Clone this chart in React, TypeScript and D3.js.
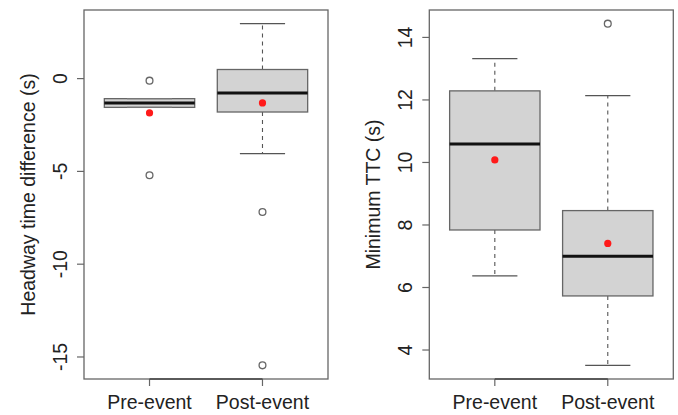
import React from "react";
import * as d3 from "d3";

const categories = ["Pre-event", "Post-event"];

// Headway time difference (s)
const headwayWhiskerLow = [-1.55, -4.04];
const headwayQ1 = [-1.55, -1.8];
const headwayMedian = [-1.31, -0.77];
const headwayQ3 = [-1.08, 0.49];
const headwayWhiskerHigh = [-1.08, 2.96];
const headwayOutliers = [[-0.11, -5.21], [-7.19, -15.45]];
const headwayMeans = [-1.85, -1.31];
const headwayTicks = [0, -5, -10, -15];

// Minimum TTC (s)
const ttcWhiskerLow = [6.37, 3.51];
const ttcQ1 = [7.84, 5.73];
const ttcMedian = [10.59, 7.0];
const ttcQ3 = [12.29, 8.46];
const ttcWhiskerHigh = [13.32, 12.14];
const ttcOutliers = [[], [14.44]];
const ttcMeans = [10.08, 7.41];
const ttcTicks = [4, 6, 8, 10, 12, 14];

type PanelProps = {
  left: number;
  right: number;
  top: number;
  bottom: number;
  ylabel: string;
  wLow: number[];
  q1: number[];
  med: number[];
  q3: number[];
  wHigh: number[];
  outliers: number[][];
  means: number[];
  ticks: number[];
};

const FONT = "'Liberation Sans', Arial, Helvetica, sans-serif";
const FS = 19.5;

function Panel(p: PanelProps) {
  const all = [...p.wLow, ...p.wHigh, ...p.outliers.flat()];
  const mn = d3.min(all) as number;
  const mx = d3.max(all) as number;
  const pad = (mx - mn) * 0.04;
  const y = d3.scaleLinear().domain([mn - pad, mx + pad]).range([p.bottom, p.top]);
  const n = categories.length;
  const xpad = n * 0.04;
  const x = d3.scaleLinear().domain([0.5 - xpad, n + 0.5 + xpad]).range([p.left, p.right]);
  const unit = x(1) - x(0);
  const bw = 0.8 * unit;
  const cw = 0.4 * unit;
  const frame = "#666";
  const tickLen = 7;
  return (
    <g>
      {categories.map((c, i) => {
        const cx = x(i + 1);
        return (
          <g key={c}>
            <line x1={cx} x2={cx} y1={y(p.q3[i])} y2={y(p.wHigh[i])} stroke="#555" strokeWidth={1.1} strokeDasharray="4,4" />
            <line x1={cx} x2={cx} y1={y(p.q1[i])} y2={y(p.wLow[i])} stroke="#555" strokeWidth={1.1} strokeDasharray="4,4" />
            <line x1={cx - cw / 2} x2={cx + cw / 2} y1={y(p.wHigh[i])} y2={y(p.wHigh[i])} stroke="#555" strokeWidth={1.3} />
            <line x1={cx - cw / 2} x2={cx + cw / 2} y1={y(p.wLow[i])} y2={y(p.wLow[i])} stroke="#555" strokeWidth={1.3} />
            <rect x={cx - bw / 2} width={bw} y={y(p.q3[i])} height={y(p.q1[i]) - y(p.q3[i])} fill="#d3d3d3" stroke="#666" strokeWidth={1.3} />
            {p.q3[i] - p.q1[i] < 1 && (
              <>
                <line x1={cx - cw / 2} x2={cx + cw / 2} y1={y(p.wHigh[i])} y2={y(p.wHigh[i])} stroke="#777" strokeWidth={1.2} />
                <line x1={cx - cw / 2} x2={cx + cw / 2} y1={y(p.wLow[i])} y2={y(p.wLow[i])} stroke="#777" strokeWidth={1.2} />
              </>
            )}
            <line x1={cx - bw / 2} x2={cx + bw / 2} y1={y(p.med[i])} y2={y(p.med[i])} stroke="#111" strokeWidth={3} />
            {p.outliers[i].map((o, j) => (
              <circle key={j} cx={cx} cy={y(o)} r={3.4} fill="none" stroke="#666" strokeWidth={1.3} />
            ))}
            <circle cx={cx} cy={y(p.means[i])} r={3.6} fill="#ff1a1a" />
            <line x1={cx} x2={cx} y1={p.bottom} y2={p.bottom + tickLen} stroke={frame} strokeWidth={1.2} />
            <text x={cx} y={409} textAnchor="middle" fontFamily={FONT} fontSize={FS} fill="#222">{c}</text>
          </g>
        );
      })}
      {p.ticks.map((t) => (
        <g key={t}>
          <line x1={p.left - tickLen} x2={p.left} y1={y(t)} y2={y(t)} stroke={frame} strokeWidth={1.2} />
          <text transform={`translate(${p.left - 17.5},${y(t)}) rotate(-90)`} textAnchor="middle" fontFamily={FONT} fontSize={FS} fill="#222">{t}</text>
        </g>
      ))}
      <rect x={p.left} y={p.top} width={p.right - p.left} height={p.bottom - p.top} fill="none" stroke={frame} strokeWidth={1.3} />
      <line x1={x(1)} x2={x(n)} y1={p.bottom} y2={p.bottom} stroke="#444" strokeWidth={1.4} />
      <text transform={`translate(${p.left - 49.5},${(p.top + p.bottom) / 2}) rotate(-90)`} textAnchor="middle" fontFamily={FONT} fontSize={FS} fill="#222">{p.ylabel}</text>
    </g>
  );
}

export default function App() {
  return (
    <svg width={678} height={415} style={{ position: "absolute", left: 0, top: 0, background: "#fff" }}>
      <rect width={678} height={415} fill="#fff" />
      <Panel left={84} right={328} top={10} bottom={379} ylabel="Headway time difference (s)"
        wLow={headwayWhiskerLow} q1={headwayQ1} med={headwayMedian} q3={headwayQ3} wHigh={headwayWhiskerHigh}
        outliers={headwayOutliers} means={headwayMeans} ticks={headwayTicks} />
      <Panel left={429.3} right={673.3} top={10} bottom={379} ylabel="Minimum TTC (s)"
        wLow={ttcWhiskerLow} q1={ttcQ1} med={ttcMedian} q3={ttcQ3} wHigh={ttcWhiskerHigh}
        outliers={ttcOutliers} means={ttcMeans} ticks={ttcTicks} />
    </svg>
  );
}
